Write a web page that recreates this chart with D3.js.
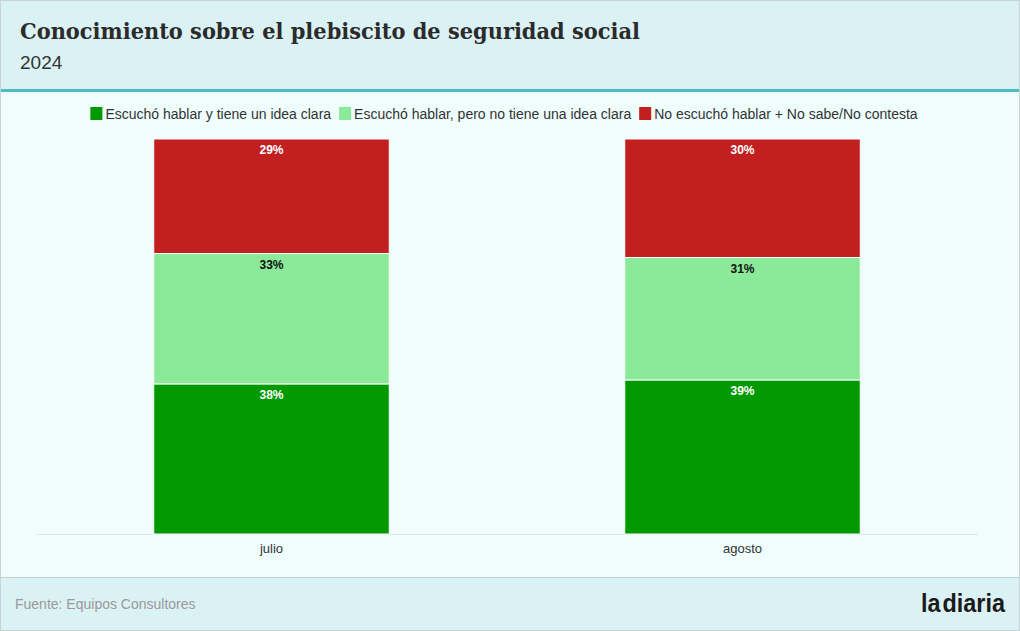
<!DOCTYPE html>
<meta charset="utf-8">
<script src="https://d3js.org/d3.v7.min.js"></script>
<style>
  body { margin: 0; background: #effdfd; }
  svg { display: block; }
</style>
<div id="chart"></div>
<script>
// data
var months = ["julio", "agosto"];
var series = ["Escuchó hablar y tiene un idea clara",
              "Escuchó hablar, pero no tiene una idea clara",
              "No escuchó hablar + No sabe/No contesta"];
var clara = [38, 39];
var noClara = [33, 31];
var noEscucho = [29, 30];
var colors = ["#009900", "#8be99a", "#c11f20"];
var labelColors = ["#ffffff", "#111111", "#ffffff"];

var W = 1020, H = 631;
var svg = d3.select("#chart").append("svg").attr("width", W).attr("height", H);

// backgrounds
svg.append("rect").attr("x", 0.5).attr("y", 0.5).attr("width", W - 1).attr("height", H - 1)
  .attr("fill", "#effdfd").attr("stroke", "#c8d3d4");
svg.append("rect").attr("x", 1).attr("y", 1).attr("width", W - 2).attr("height", 88).attr("fill", "#dbf2f5");
svg.append("rect").attr("x", 1).attr("y", 89).attr("width", W - 2).attr("height", 3).attr("fill", "#4bbdc0");
svg.append("rect").attr("x", 1).attr("y", 577).attr("width", W - 2).attr("height", 53).attr("fill", "#dbf2f5");
svg.append("line").attr("x1", 1).attr("x2", W - 1).attr("y1", 577.5).attr("y2", 577.5).attr("stroke", "#c4cfd0");

// title
svg.append("text").attr("x", 20).attr("y", 39)
  .style("font-family", "'DejaVu Serif', serif").style("font-weight", "bold").style("font-size", "23px")
  .attr("fill", "#2b2b2b").attr("textLength", 620).attr("lengthAdjust", "spacingAndGlyphs")
  .text("Conocimiento sobre el plebiscito de seguridad social");
svg.append("text").attr("x", 20).attr("y", 69)
  .style("font-family", "'Liberation Sans', Arial, sans-serif").style("font-size", "19px")
  .attr("fill", "#333").text("2024");

// legend
var legend = svg.append("g").style("font-family", "'Liberation Sans', Arial, sans-serif").style("font-size", "14px");
var items = legend.selectAll("g").data(series).enter().append("g");
items.append("rect").attr("width", 12).attr("height", 13).attr("y", 107)
  .attr("fill", function (d, i) { return colors[i]; });
items.append("text").attr("x", 15).attr("y", 119).attr("fill", "#333").text(function (d) { return d; });
var widths = [];
items.each(function () { widths.push(d3.select(this).select("text").node().getComputedTextLength() + 15); });
var gap = 8;
var total = d3.sum(widths) + gap * (widths.length - 1);
var lx = (W - total) / 2 - 6;
items.attr("transform", function (d, i) {
  var x = lx; lx += widths[i] + gap; return "translate(" + x + ",0)";
});

// scales
var x = d3.scaleBand().domain(months).range([36, 978]).paddingInner(0.5).paddingOuter(0.25);
var y = d3.scaleLinear().domain([0, 100]).range([534, 139]);

var rows = months.map(function (m, i) {
  return { month: m, s0: clara[i], s1: noClara[i], s2: noEscucho[i] };
});
var stacked = d3.stack().keys(["s0", "s1", "s2"])(rows);

// baseline
svg.append("line").attr("x1", 36).attr("x2", 978).attr("y1", 534.5).attr("y2", 534.5).attr("stroke", "#dde6e6");

var layers = svg.selectAll("g.layer").data(stacked).enter().append("g").attr("class", "layer")
  .attr("fill", function (d, i) { return colors[i]; });
layers.selectAll("rect").data(function (d) { return d; }).enter().append("rect")
  .attr("x", function (d) { return x(d.data.month); })
  .attr("width", x.bandwidth())
  .attr("y", function (d) { return y(d[1]); })
  .attr("height", function (d) { return y(d[0]) - y(d[1]); })
  .attr("stroke", "#ffffff").attr("stroke-width", 1);

layers.selectAll("text").data(function (d) { return d; }).enter().append("text")
  .attr("x", function (d) { return x(d.data.month) + x.bandwidth() / 2; })
  .attr("y", function (d) { return y(d[1]) + 15; })
  .attr("text-anchor", "middle")
  .style("font-family", "'Liberation Sans', Arial, sans-serif").style("font-weight", "bold").style("font-size", "12px")
  .attr("fill", function () { return labelColors[stacked.indexOf(d3.select(this.parentNode).datum())]; })
  .text(function (d) { return (d[1] - d[0]) + "%"; });

// x axis labels
var xAxis = svg.append("g").attr("transform", "translate(0,534)")
  .call(d3.axisBottom(x).tickSize(0).tickPadding(10));
xAxis.select(".domain").remove();
xAxis.selectAll("text").style("font-family", "'Liberation Sans', Arial, sans-serif")
  .style("font-size", "13px").attr("fill", "#333");

// footer
svg.append("text").attr("x", 15).attr("y", 609)
  .style("font-family", "'Liberation Sans', Arial, sans-serif").style("font-size", "14px")
  .attr("fill", "#999").text("Fuente: Equipos Consultores");
svg.append("text").attr("x", 1005).attr("y", 612).attr("text-anchor", "end")
  .style("font-family", "'Liberation Sans Narrow', 'Liberation Sans', sans-serif").style("font-weight", "bold")
  .style("font-size", "26px").attr("fill", "#1a1a1a").attr("textLength", 84).attr("lengthAdjust", "spacingAndGlyphs")
  .style("word-spacing", "-5px")
  .text("la diaria");
</script>
